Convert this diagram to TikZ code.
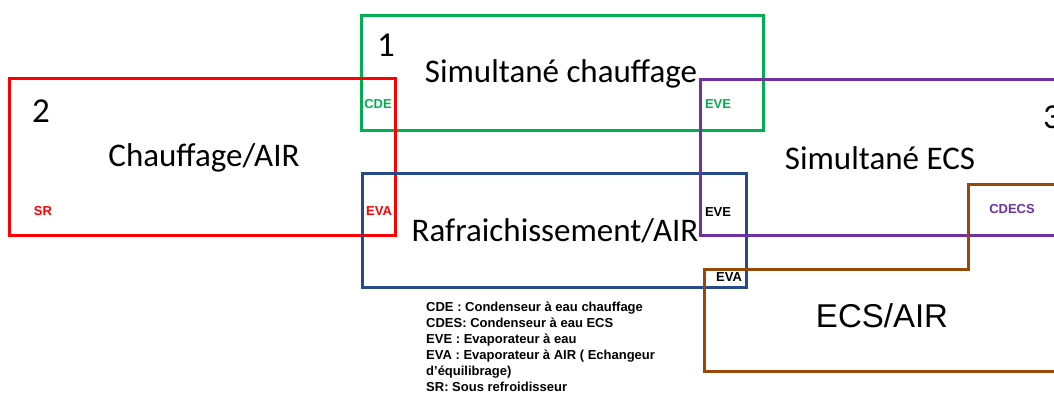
\documentclass[tikz,border=0pt]{standalone}
\usepackage{fontspec}
\setmainfont{Carlito}
\newfontfamily\arialfont{Liberation Sans}
\definecolor{modeGreen}{RGB}{0,176,80}
\definecolor{modeRed}{RGB}{255,0,0}
\definecolor{modeBlue}{RGB}{38,74,138}
\definecolor{modePurple}{RGB}{112,48,160}
\definecolor{modeBrown}{RGB}{151,72,6}
\tikzset{
  modebox/.style={line width=3pt},
  title/.style={font=\fontsize{33}{38}\selectfont},
  num/.style={font=\fontsize{35}{38}\selectfont},
  tag/.style={font=\arialfont\bfseries\fontsize{13}{15}\selectfont,inner sep=0pt}
}
\begin{document}
\begin{tikzpicture}[x=1pt,y=-1pt,line join=miter]
\useasboundingbox (0,0) rectangle (1054,394);
\clip (0,0) rectangle (1054,394);

% ---- the five operating modes ----
\draw[modebox,modeGreen] (361,15) rectangle (763,130);
\draw[modebox,modeRed] (9,78) rectangle (395,235);
\draw[modebox,modeBlue] (362,173) rectangle (746,287);
\draw[modebox,modePurple] (700,79) rectangle (1070,235);
\draw[modebox,modeBrown] (1070,184) -- (968,184) -- (968,269) -- (704,269) -- (704,371) -- (1070,371);

% ---- numbers and titles ----
\node[num] (n1) at (386,45) {1};
\node[title] (t1) at (561,74) {Simultané chauffage};
\node[num] (n2) at (41,111) {2};
\node[title] (t2) at (204,158) {Chauffage/AIR};
\node[num] (n3) at (1052,117) {3};
\node[title] (t3) at (880,158) {Simultané ECS};
\node[title] (t4) at (555,231) {Rafraichissement/AIR};
\node[title,font=\arialfont\fontsize{33}{38}\selectfont] (t5) at (882,316) {ECS/AIR};

% ---- exchanger tags ----
\node[tag,modeGreen] (cde) at (378,104) {CDE};
\node[tag,modeGreen] (eve1) at (718,104) {EVE};
\node[tag,modeRed] (sr) at (43,211) {SR};
\node[tag,modeRed] (eva1) at (379,211) {EVA};
\node[tag] (eve2) at (718,212) {EVE};
\node[tag] (eva2) at (729,277) {EVA};
\node[tag,modePurple] (cdecs) at (1012,209) {CDECS};

% ---- legend ----
\node[anchor=north west,align=left,inner sep=0pt,
  font=\arialfont\bfseries\fontsize{13}{16}\selectfont] (legend) at (426,302)
  {CDE : Condenseur à eau chauffage\\
   CDES: Condenseur à eau ECS\\
   EVE : Evaporateur à eau\\
   EVA : Evaporateur à AIR ( Echangeur\\
   d’équilibrage)\\
   SR: Sous refroidisseur};

\end{tikzpicture}
\end{document}
